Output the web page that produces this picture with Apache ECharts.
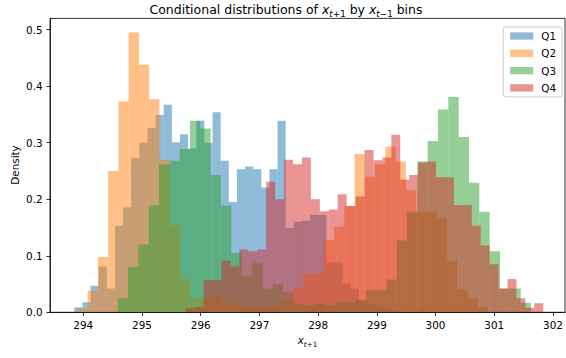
<!DOCTYPE html>
<html>
<head>
<meta charset="utf-8">
<script src="https://cdn.jsdelivr.net/npm/echarts@6/dist/echarts.min.js"></script>
<style>
  html, body { margin: 0; padding: 0; background: #ffffff; }
  #chart { width: 566px; height: 358px; }
</style>
</head>
<body>
<div id="chart"></div>
<script>
// Quartile groups of x_{t-1}; each histogram has 40 equal bins over its own range.
const groups = ['Q1', 'Q2', 'Q3', 'Q4'];

const q1Range = [293.847, 299.386];
const q1Density = [
  0.009, 0.018, 0.047, 0.081, 0.042, 0.153, 0.186, 0.273, 0.300, 0.326,
  0.349, 0.367, 0.301, 0.315, 0.290, 0.339, 0.300, 0.354, 0.268, 0.195,
  0.253, 0.258, 0.253, 0.221, 0.253, 0.339, 0.149, 0.160, 0.162, 0.172,
  0.172, 0.088, 0.088, 0.051, 0.042, 0.020, 0.015, 0.010, 0.005, 0.003
];

const q2Range = [293.898, 300.895];
const q2Density = [
  0.006, 0.038, 0.098, 0.250, 0.373, 0.495, 0.438, 0.377, 0.270, 0.154,
  0.058, 0.025, 0.026, 0.026, 0.017, 0.017, 0.010, 0.008, 0.012, 0.012,
  0.020, 0.042, 0.068, 0.068, 0.128, 0.152, 0.188, 0.280, 0.240, 0.262,
  0.293, 0.267, 0.216, 0.178, 0.178, 0.166, 0.091, 0.041, 0.025, 0.010
];

const q3Range = [294.586, 301.626];
const q3Density = [
  0.025, 0.080, 0.120, 0.189, 0.262, 0.268, 0.289, 0.339, 0.325, 0.243,
  0.189, 0.105, 0.064, 0.087, 0.042, 0.050, 0.035, 0.015, 0.012, 0.015,
  0.012, 0.017, 0.017, 0.022, 0.040, 0.040, 0.058, 0.127, 0.178, 0.267,
  0.303, 0.359, 0.381, 0.310, 0.229, 0.178, 0.108, 0.042, 0.042, 0.017
];

const q4Range = [295.746, 301.835];
const q4Density = [
  0.007, 0.009, 0.057, 0.057, 0.091, 0.081, 0.111, 0.108, 0.111, 0.231,
  0.200, 0.270, 0.262, 0.274, 0.200, 0.179, 0.182, 0.209, 0.188, 0.205,
  0.287, 0.269, 0.274, 0.314, 0.235, 0.243, 0.265, 0.267, 0.239, 0.239,
  0.190, 0.190, 0.153, 0.118, 0.085, 0.042, 0.059, 0.025, 0.008, 0.016
];

const xTicks = [294, 295, 296, 297, 298, 299, 300, 301, 302];
const yTicks = [0, 0.1, 0.2, 0.3, 0.4, 0.5];

const FONT = 'DejaVu Sans';
const colors = [
  'rgba(31,119,180,0.5)',
  'rgba(255,127,14,0.5)',
  'rgba(44,160,44,0.5)',
  'rgba(214,39,40,0.5)'
];

// [left edge, right edge, density] for every bin
function toBins(range, density) {
  const w = (range[1] - range[0]) / density.length;
  return density.map((d, i) => [range[0] + i * w, range[0] + (i + 1) * w, d]);
}

function renderBar(params, api) {
  const topLeft = api.coord([api.value(0), api.value(2)]);
  const bottomRight = api.coord([api.value(1), 0]);
  return {
    type: 'rect',
    shape: {
      x: topLeft[0],
      y: topLeft[1],
      width: bottomRight[0] - topLeft[0],
      height: bottomRight[1] - topLeft[1]
    },
    style: { fill: api.visual('color') }
  };
}

const histograms = [
  toBins(q1Range, q1Density),
  toBins(q2Range, q2Density),
  toBins(q3Range, q3Density),
  toBins(q4Range, q4Density)
];

const axisLine = { show: true, onZero: false, lineStyle: { color: '#000', width: 0.8 } };
const tickLabel = { color: '#000', fontSize: 10.4, fontFamily: FONT };

const mathRich = (size) => ({
  n: { fontSize: size, fontFamily: FONT, fill: '#000', lineHeight: size * 1.45 },
  i: { fontSize: size, fontFamily: FONT, fontStyle: 'italic', fill: '#000', lineHeight: size * 1.45 },
  s: { fontSize: size * 0.7, fontFamily: FONT, fontStyle: 'italic', fill: '#000', lineHeight: size * 0.7, verticalAlign: 'bottom' },
  u: { fontSize: size * 0.7, fontFamily: FONT, fill: '#000', lineHeight: size * 0.7, verticalAlign: 'bottom' }
});

const chart = echarts.init(document.getElementById('chart'), null, { renderer: 'svg' });

chart.setOption({
  animation: false,
  backgroundColor: '#ffffff',
  grid: {
    left: 50, right: 1, top: 18.4, bottom: 45.7,
    show: true, borderColor: '#000', borderWidth: 0.8,
    outerBoundsMode: 'none'
  },
  xAxis: {
    type: 'value',
    min: 293.433,
    max: 302.205,
    axisLine: axisLine,
    axisTick: { show: true, length: 3.6, lineStyle: { color: '#000', width: 0.8 }, customValues: xTicks },
    axisLabel: Object.assign({ customValues: xTicks, margin: 7.4 }, tickLabel),
    splitLine: { show: false }
  },
  yAxis: {
    type: 'value',
    min: 0,
    max: 0.52,
    axisLine: axisLine,
    axisTick: { show: true, length: 3.6, lineStyle: { color: '#000', width: 0.8 }, customValues: yTicks },
    axisLabel: Object.assign({ customValues: yTicks, margin: 7.4, formatter: v => v.toFixed(1) }, tickLabel),
    splitLine: { show: false }
  },
  legend: {
    data: groups,
    orient: 'vertical',
    right: 4,
    top: 27,
    icon: 'rect',
    itemWidth: 23,
    itemHeight: 7.3,
    itemGap: 5.3,
    padding: [3, 6, 3, 7],
    backgroundColor: 'rgba(255,255,255,0.8)',
    borderColor: '#cccccc',
    borderWidth: 1,
    borderRadius: 2,
    selectedMode: false,
    formatter: name => '{t|' + name + '}',
    textStyle: {
      color: '#000', fontSize: 10.4, fontFamily: FONT, lineHeight: 12,
      rich: { t: { color: '#000', fontSize: 10.4, fontFamily: FONT, lineHeight: 12, padding: [0, 0, 0, 3] } }
    }
  },
  graphic: [
    {
      type: 'text', x: 286, y: 9.5, silent: true,
      style: {
        text: '{n|Conditional distributions of }{i|x}{s|t}{u|+1}{n| by }{i|x}{s|t}{u|\u22121}{n| bins}',
        align: 'center', verticalAlign: 'middle',
        rich: mathRich(12.5)
      }
    },
    {
      type: 'text', x: 307.5, y: 340, silent: true,
      style: {
        text: '{i|x}{s|t}{u|+1}',
        align: 'center', verticalAlign: 'middle',
        rich: mathRich(10.4)
      }
    },
    {
      type: 'text', x: 14.5, y: 165, rotation: Math.PI / 2, silent: true,
      style: {
        text: 'Density', fontSize: 10.4, fontFamily: FONT, fill: '#000',
        align: 'center', verticalAlign: 'middle'
      }
    }
  ],
  series: groups.map((name, k) => ({
    type: 'custom',
    name: name,
    renderItem: renderBar,
    data: histograms[k],
    encode: { x: [0, 1], y: 2 },
    itemStyle: { color: colors[k] },
    clip: true
  }))
});
</script>
</body>
</html>
